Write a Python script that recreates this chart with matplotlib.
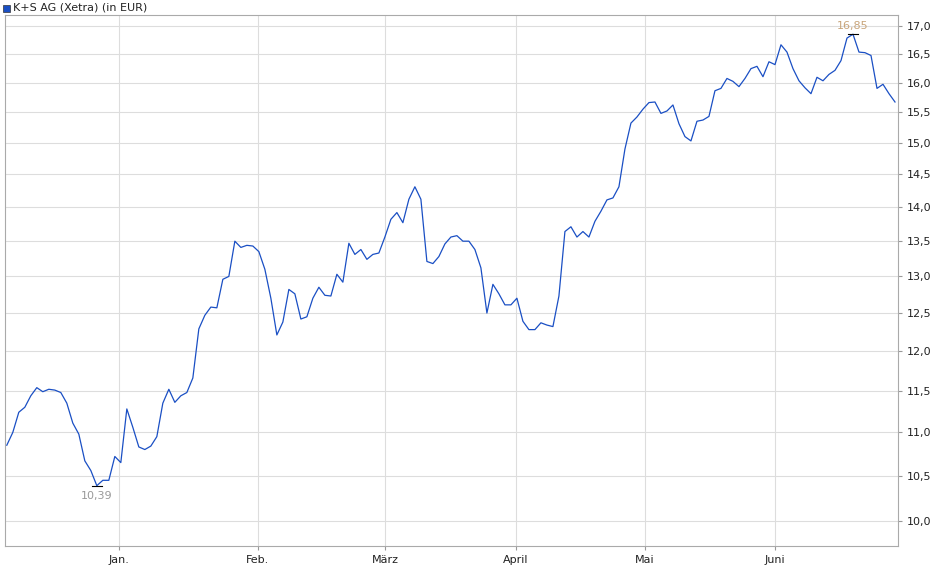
import matplotlib
matplotlib.use("Agg")
import matplotlib.pyplot as plt
import numpy as np
from matplotlib.ticker import FixedLocator, NullLocator

# daily closing prices (trading days)
prices = [10.85, 11.0, 11.24, 11.30, 11.44, 11.54, 11.49, 11.52, 11.51, 11.48,
          11.35, 11.11, 10.98, 10.67, 10.56, 10.39, 10.45, 10.45, 10.72, 10.65,
          11.28, 11.06, 10.83, 10.80, 10.84, 10.95, 11.35, 11.52, 11.36, 11.44,
          11.48, 11.66, 12.29, 12.47, 12.58, 12.57, 12.96, 13.0, 13.5, 13.41,
          13.44, 13.43, 13.35, 13.1, 12.7, 12.21, 12.38, 12.82, 12.76, 12.42,
          12.45, 12.7, 12.85, 12.74, 12.73, 13.03, 12.92, 13.47, 13.31, 13.38,
          13.24, 13.31, 13.33, 13.56, 13.82, 13.92, 13.77, 14.12, 14.31, 14.12,
          13.21, 13.18, 13.28, 13.46, 13.56, 13.58, 13.5, 13.5, 13.38, 13.12,
          12.5, 12.89, 12.76, 12.61, 12.61, 12.7, 12.39, 12.28, 12.28, 12.37,
          12.34, 12.32, 12.73, 13.64, 13.71, 13.56, 13.64, 13.56, 13.79, 13.94,
          14.11, 14.14, 14.31, 14.9, 15.32, 15.42, 15.55, 15.66, 15.67, 15.48,
          15.52, 15.62, 15.31, 15.1, 15.03, 15.35, 15.37, 15.43, 15.86, 15.9,
          16.07, 16.02, 15.93, 16.07, 16.24, 16.28, 16.1, 16.36, 16.31, 16.66,
          16.53, 16.24, 16.03, 15.91, 15.81, 16.09, 16.03, 16.14, 16.21, 16.38,
          16.78, 16.85, 16.53, 16.52, 16.47, 15.9, 15.97, 15.81, 15.67]
month_labels = ["Jan.", "Feb.", "März", "April", "Mai", "Juni"]
month_pos = [18.7, 41.8, 63.0, 84.8, 106.3, 128.0]   # trading-day index of month start
y_ticks = [10.0, 10.5, 11.0, 11.5, 12.0, 12.5, 13.0, 13.5, 14.0, 14.5, 15.0, 15.5, 16.0, 16.5, 17.0]

fig = plt.figure(figsize=(9.40, 5.79), dpi=100)
ax = fig.add_axes([5/940, 33/579, 893/940, 531/579])
x = np.arange(len(prices))
ax.plot(x, prices, color="#1a4fc4", lw=0.9)

ax.set_yscale("log")
ax.set_ylim(9.74, 17.2)
ax.set_xlim(-0.3, len(prices) - 0.5)
ax.yaxis.set_major_locator(FixedLocator(y_ticks))
ax.yaxis.set_minor_locator(NullLocator())
ax.set_yticklabels([f"{v:.1f}".replace(".", ",") for v in y_ticks])
ax.yaxis.tick_right()
ax.set_xticks(month_pos)
ax.set_xticklabels(month_labels)
ax.tick_params(labelsize=8, length=3, color="#999999", labelcolor="#222222")
ax.grid(True, color="#dddddd", lw=0.8)
ax.set_axisbelow(True)
for s in ax.spines.values():
    s.set_color("#aaaaaa")

imin = int(np.argmin(prices))
imax = int(np.argmax(prices))
ax.plot([imin - 0.8, imin + 0.8], [prices[imin]] * 2, color="black", lw=0.8)
ax.plot([imax - 0.8, imax + 0.8], [prices[imax]] * 2, color="black", lw=0.8)
ax.annotate(f"{prices[imin]:.2f}".replace(".", ","), (imin, prices[imin]), xytext=(0, -4),
            textcoords="offset points", ha="center", va="top", fontsize=8, color="#999999")
ax.annotate(f"{prices[imax]:.2f}".replace(".", ","), (imax, prices[imax]), xytext=(0, 2),
            textcoords="offset points", ha="center", va="bottom", fontsize=8, color="#c8a47a")

fig.patches.append(plt.Rectangle((3/940, 1 - 12/579), 7/940, 7/579, transform=fig.transFigure,
                                 facecolor="#1a4fc4", edgecolor="#333333", lw=0.5))
fig.text(13/940, 1 - 7/579, "K+S AG (Xetra) (in EUR)", fontsize=8, va="center", color="#222222")

fig.savefig("out.png", dpi=100)
